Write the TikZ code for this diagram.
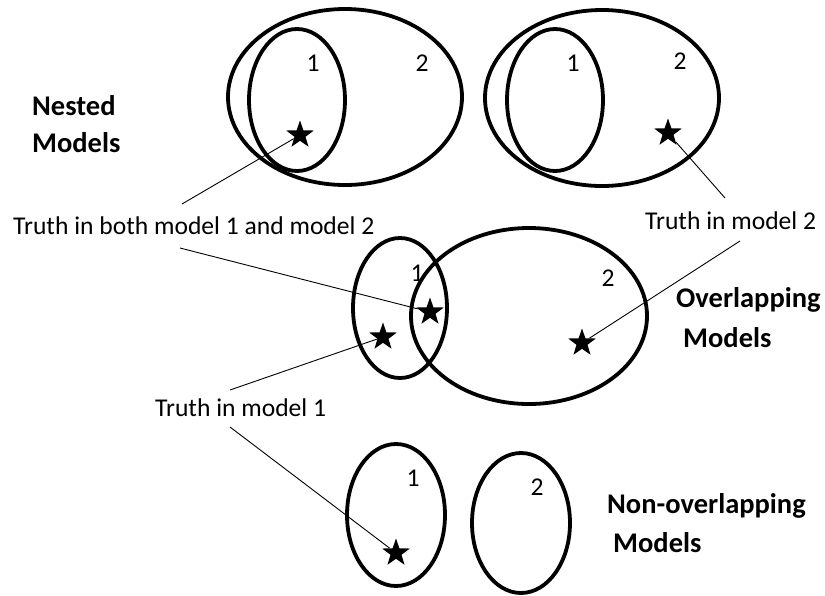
\documentclass[tikz,border=0pt]{standalone}
\usepackage{fontspec}
\setmainfont{Carlito}
\usetikzlibrary{shapes.geometric}
\tikzset{
  model/.style={draw=black, line width=3.8pt},
  truth/.style={star, star points=5, star point ratio=2.5, fill=black, draw=none, minimum size=29pt, inner sep=0pt},
  conn/.style={draw=black, line width=0.9pt},
  lbl/.style={font=\fontsize{25.6}{30}\selectfont, anchor=base west, inner sep=0pt},
  num/.style={font=\fontsize{25.6}{30}\selectfont, inner sep=0pt},
  title/.style={font=\fontsize{28.5}{34}\selectfont\bfseries, anchor=base west, inner sep=0pt}
}
\begin{document}
\begin{tikzpicture}[x=1pt,y=-1pt]
\useasboundingbox (0,0) rectangle (825,595);
% Nested (left)
\draw[model] (345,97) ellipse [x radius=117, y radius=88];
\draw[model] (297,100) ellipse [x radius=48, y radius=71];
\node[num] (n1) at (313,63) {1};
\node[num] (n2) at (422,63) {2};
\node[truth] (sN) at (300,135) {};
% Nested (right)
\draw[model] (602,98) ellipse [x radius=117, y radius=88];
\draw[model] (555,100) ellipse [x radius=48, y radius=71];
\node[num] (r1) at (573,63) {1};
\node[num] (r2) at (680,61) {2};
\node[truth] (sR) at (668,133) {};
% Overlapping
\draw[model] (400,308) ellipse [x radius=47, y radius=70];
\draw[model] (529,316) ellipse [x radius=118, y radius=88];
\node[num] (o1) at (417,273) {1};
\node[num] (o2) at (608,278) {2};
\node[truth] (sO12) at (430,312) {};
\node[truth] (sO1) at (383,337) {};
\node[truth] (sO2) at (582,343) {};
% Non-overlapping
\draw[model] (396,515) ellipse [x radius=49, y radius=71];
\draw[model] (521,523) ellipse [x radius=49, y radius=70];
\node[num] (p1) at (413,478) {1};
\node[num] (p2) at (537,487) {2};
\node[truth] (sP1) at (396,553) {};
% Titles
\node[title] (tn1) at (32,115) {Nested};
\node[title] (tn2) at (32,152) {Models};
\node[title] (to1) at (676,307) {Overlapping};
\node[title] (to2) at (683,347) {Models};
\node[title] (tp1) at (607,513) {Non-overlapping};
\node[title] (tp2) at (613,552) {Models};
% Labels
\node[lbl] (lboth) at (13,234) {Truth in both model 1 and model 2};
\node[lbl] (lm2) at (645,229) {Truth in model 2};
\node[lbl] (lm1) at (155,416) {Truth in model 1};
% Connector ends
\coordinate (c1) at (182,204);
\coordinate (c2) at (725,198);
\coordinate (c3) at (180,248);
\coordinate (c4) at (740,241);
\coordinate (c5) at (230,390);
\coordinate (c6) at (230,427);
\draw[conn] (c1) -- (sN);
\draw[conn] (c2) -- (sR);
\draw[conn] (c3) -- (sO12);
\draw[conn] (c4) -- (sO2);
\draw[conn] (c5) -- (sO1);
\draw[conn] (c6) -- (sP1);
\end{tikzpicture}
\end{document}
